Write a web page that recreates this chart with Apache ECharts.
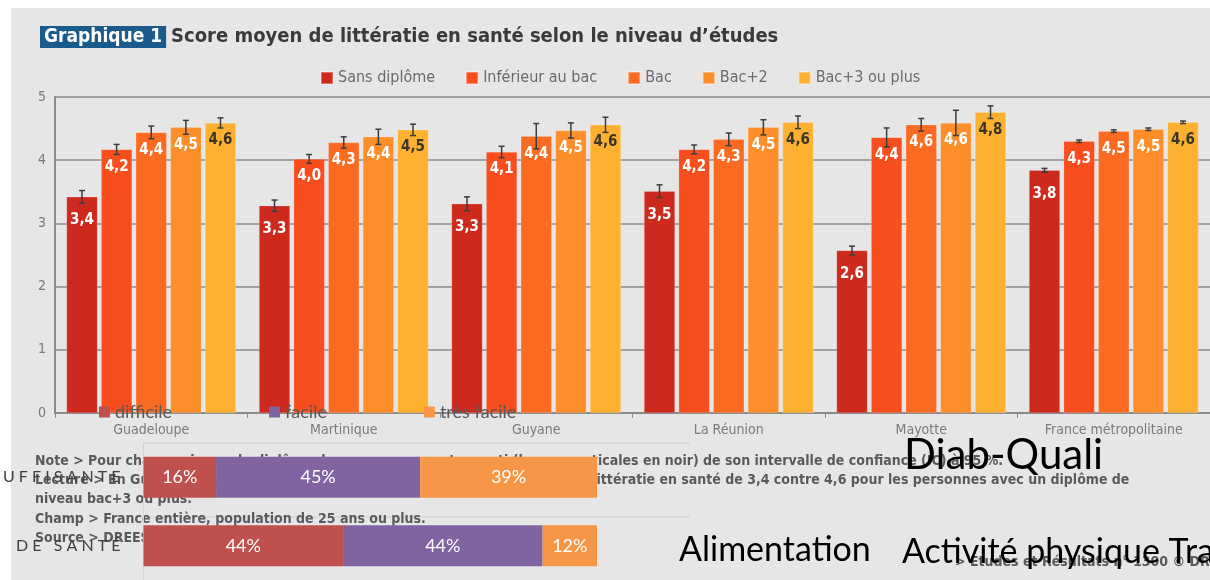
<!DOCTYPE html>
<html>
<head>
<meta charset="utf-8">
<script src="https://cdn.jsdelivr.net/npm/echarts@6/dist/echarts.min.js"></script>
<style>
  html, body { margin: 0; padding: 0; background: #fff; }
  #wrap { position: relative; width: 1210px; height: 580px; overflow: hidden; }
  #panel { position: absolute; left: 11px; top: 8px; right: 0; bottom: 0; background: #e6e6e6; }
  #chart { position: absolute; left: 0; top: 0; width: 1210px; height: 580px; }
</style>
</head>
<body>
<div id="wrap"><div id="panel"></div><div id="chart"></div></div>
<script>
// main chart: score by region and diploma level
const regions = ['Guadeloupe', 'Martinique', 'Guyane', 'La Réunion', 'Mayotte', 'France métropolitaine'];
const levels = ['Sans diplôme', 'Inférieur au bac', 'Bac', 'Bac+2', 'Bac+3 ou plus'];
const sansDiplome = [3.42, 3.28, 3.31, 3.51, 2.57, 3.84];
const inferieurBac = [4.17, 4.02, 4.13, 4.17, 4.36, 4.30];
const bac = [4.44, 4.28, 4.38, 4.33, 4.56, 4.46];
const bac2 = [4.52, 4.37, 4.47, 4.52, 4.59, 4.49];
const bac3 = [4.59, 4.48, 4.56, 4.60, 4.76, 4.60];
// half width of the 95% confidence interval
const errSans = [0.10, 0.09, 0.11, 0.10, 0.07, 0.03];
const errInf = [0.08, 0.07, 0.09, 0.07, 0.15, 0.02];
const errBac = [0.10, 0.09, 0.20, 0.10, 0.10, 0.02];
const errBac2 = [0.11, 0.12, 0.12, 0.12, 0.20, 0.02];
const errBac3 = [0.08, 0.09, 0.12, 0.10, 0.10, 0.02];
const yTicks = [0, 1, 2, 3, 4, 5];

// overlay chart: stacked shares
const rows = ['UFFISANTE', 'DE SANTÉ'];
const ease = ['difficile', 'facile', 'très facile'];
const difficile = [16, 44];
const facile = [45, 44];
const tresFacile = [39, 12];

const colors = ['#cd291c', '#f84d1c', '#fa6b21', '#fd8e2a', '#feb130'];
const easeColors = ['#c0504d', '#8064a2', '#f79646'];
const narrow = "'Liberation Sans Narrow','DejaVu Sans Condensed','Roboto Condensed',sans-serif";
const lato = "Lato,'Open Sans',sans-serif";

const values = [sansDiplome, inferieurBac, bac, bac2, bac3];
const errs = [errSans, errInf, errBac, errBac2, errBac3];

const chart = echarts.init(document.getElementById('chart'));

function errorBars(k) {
  return function (params, api) {
    const i = api.value(0);
    const band = api.size([1, 0])[0];
    const w = band * 0.88 / 5.48;
    const x = api.coord([i, 0])[0] + (k - 2) * w * 1.12;
    const yLo = api.coord([i, api.value(1)])[1];
    const yHi = api.coord([i, api.value(2)])[1];
    const cap = 3;
    const style = { stroke: '#3d3d3d', lineWidth: 1.5 };
    return {
      type: 'group',
      children: [
        { type: 'line', shape: { x1: x, y1: yLo, x2: x, y2: yHi }, style: style },
        { type: 'line', shape: { x1: x - cap, y1: yHi, x2: x + cap, y2: yHi }, style: style },
        { type: 'line', shape: { x1: x - cap, y1: yLo, x2: x + cap, y2: yLo }, style: style }
      ]
    };
  };
}

const series = [];
levels.forEach(function (name, k) {
  series.push({
    name: name,
    type: 'bar',
    xAxisIndex: 0,
    yAxisIndex: 0,
    data: values[k],
    barGap: '12%',
    barCategoryGap: '12%',
    itemStyle: { color: colors[k], borderColor: 'rgba(255,255,255,0.35)', borderWidth: 0.5 },
    label: {
      show: true,
      position: 'insideTop',
      distance: k === 0 ? 16 : 10,
      color: k === 4 ? '#3b3524' : '#fff',
      fontFamily: narrow,
      fontWeight: 'bold',
      fontSize: 15,
      formatter: function (p) { return p.value.toFixed(1).replace('.', ','); }
    }
  });
});
levels.forEach(function (name, k) {
  series.push({
    type: 'custom',
    xAxisIndex: 0,
    yAxisIndex: 0,
    z: 4,
    renderItem: errorBars(k),
    encode: { x: 0, y: [1, 2] },
    data: values[k].map(function (v, i) { return [i, v - errs[k][i], v + errs[k][i]]; })
  });
});
const shares = [difficile, facile, tresFacile];
ease.forEach(function (name, k) {
  series.push({
    name: name,
    type: 'bar',
    xAxisIndex: 1,
    yAxisIndex: 1,
    stack: 'q',
    barWidth: 41,
    data: shares[k],
    itemStyle: { color: easeColors[k] },
    label: {
      show: true,
      position: 'inside',
      color: '#fff',
      fontFamily: lato,
      fontSize: 18,
      formatter: '{c}%'
    }
  });
});

const noteStyle = { fill: '#5a5a5a', font: 'bold 14px ' + narrow };
const option = {
  backgroundColor: 'transparent',
  animation: false,
  title: {
    left: 35,
    top: 21,
    text: '{box|Graphique 1} {t|Score moyen de littératie en santé selon le niveau d\u2019études}',
    textStyle: {
      rich: {
        box: { backgroundColor: '#1b5b8c', color: '#fff', fontFamily: narrow, fontWeight: 'bold', fontSize: 19, padding: [2, 4, 1, 4] },
        t: { color: '#3a3a3a', fontFamily: narrow, fontWeight: 'bold', fontSize: 20 }
      }
    }
  },
  legend: [
    {
      data: levels,
      left: 315,
      top: 65,
      icon: 'rect',
      itemWidth: 12,
      itemHeight: 12,
      itemGap: 30,
      textStyle: { color: '#6a6a6a', fontFamily: narrow, fontSize: 16 }
    },
    {
      data: ease,
      left: 94,
      top: 398,
      icon: 'rect',
      itemWidth: 11,
      itemHeight: 11,
      itemGap: 97,
      textStyle: { color: '#595959', fontFamily: lato, fontSize: 18 }
    }
  ],
  grid: [
    { left: 55, right: 0, top: 97, bottom: 167 },
    { left: 143, top: 443, width: 454, height: 146 }
  ],
  xAxis: [
    {
      type: 'category',
      gridIndex: 0,
      data: regions,
      axisLine: { lineStyle: { color: '#8a8a8a', width: 2 } },
      axisTick: { show: true, length: 5, lineStyle: { color: '#8a8a8a' } },
      axisLabel: { color: '#7a7a7a', fontFamily: narrow, fontSize: 14, margin: 10 }
    },
    { type: 'value', gridIndex: 1, min: 0, max: 100, show: false }
  ],
  yAxis: [
    {
      type: 'value',
      gridIndex: 0,
      min: yTicks[0],
      max: yTicks[yTicks.length - 1],
      interval: 1,
      axisLine: { show: true, lineStyle: { color: '#8a8a8a', width: 2 } },
      axisTick: { show: false },
      splitLine: { lineStyle: { color: '#8a8a8a', width: 1.5 } },
      axisLabel: { color: '#777', fontFamily: narrow, fontSize: 14, margin: 9 }
    },
    {
      type: 'category',
      gridIndex: 1,
      data: rows,
      inverse: true,
      axisLine: { show: true, lineStyle: { color: '#d4d4d4' } },
      axisTick: { show: false },
      axisLabel: {
        color: '#404040',
        fontFamily: lato,
        fontSize: 16,
        margin: 23,
        formatter: function (s) { return s.split('').join(' '); }
      }
    }
  ],
  graphic: [
    { type: 'line', z: -1, shape: { x1: 143, y1: 443, x2: 690, y2: 443 }, style: { stroke: '#d6d6d6', lineWidth: 1.5 } },
    { type: 'line', z: -1, shape: { x1: 143, y1: 517, x2: 690, y2: 517 }, style: { stroke: '#d6d6d6', lineWidth: 1.5 } },
    { type: 'text', z: -1, x: 35, y: 454, style: Object.assign({ text: 'Note > Pour chaque niveau de diplôme, le score moyen est assorti (barres verticales en noir) de son intervalle de confiance (IC) à 95 %.' }, noteStyle) },
    { type: 'text', z: -1, x: 35, y: 473, style: Object.assign({ text: 'Lecture > En Guadeloupe, les personnes sans diplôme ont un score moyen en littératie en santé de 3,4 contre 4,6 pour les personnes avec un diplôme de' }, noteStyle) },
    { type: 'text', z: -1, x: 35, y: 492, style: Object.assign({ text: 'niveau bac+3 ou plus.' }, noteStyle) },
    { type: 'text', z: -1, x: 35, y: 512, style: Object.assign({ text: 'Champ > France entière, population de 25 ans ou plus.' }, noteStyle) },
    { type: 'text', z: -1, x: 35, y: 531, style: Object.assign({ text: 'Source > DREES, enquête Baromètre santé DOM.' }, noteStyle) },
    { type: 'text', z: -1, x: 955, y: 555, style: Object.assign({ text: '> Études et Résultats n° 1300 © DREES' }, noteStyle) },
    { type: 'text', z: 10, x: 904, y: 434, style: { text: 'Diab-Quali', fill: '#000', font: '42px ' + lato } },
    { type: 'text', z: 10, x: 679, y: 533, style: { text: 'Alimentation', fill: '#000', font: '34px ' + lato } },
    { type: 'text', z: 10, x: 902, y: 535, style: { text: 'Activité physique Traitement', fill: '#000', font: '34px ' + lato } }
  ],
  series: series
};

chart.setOption(option);
</script>
</body>
</html>
